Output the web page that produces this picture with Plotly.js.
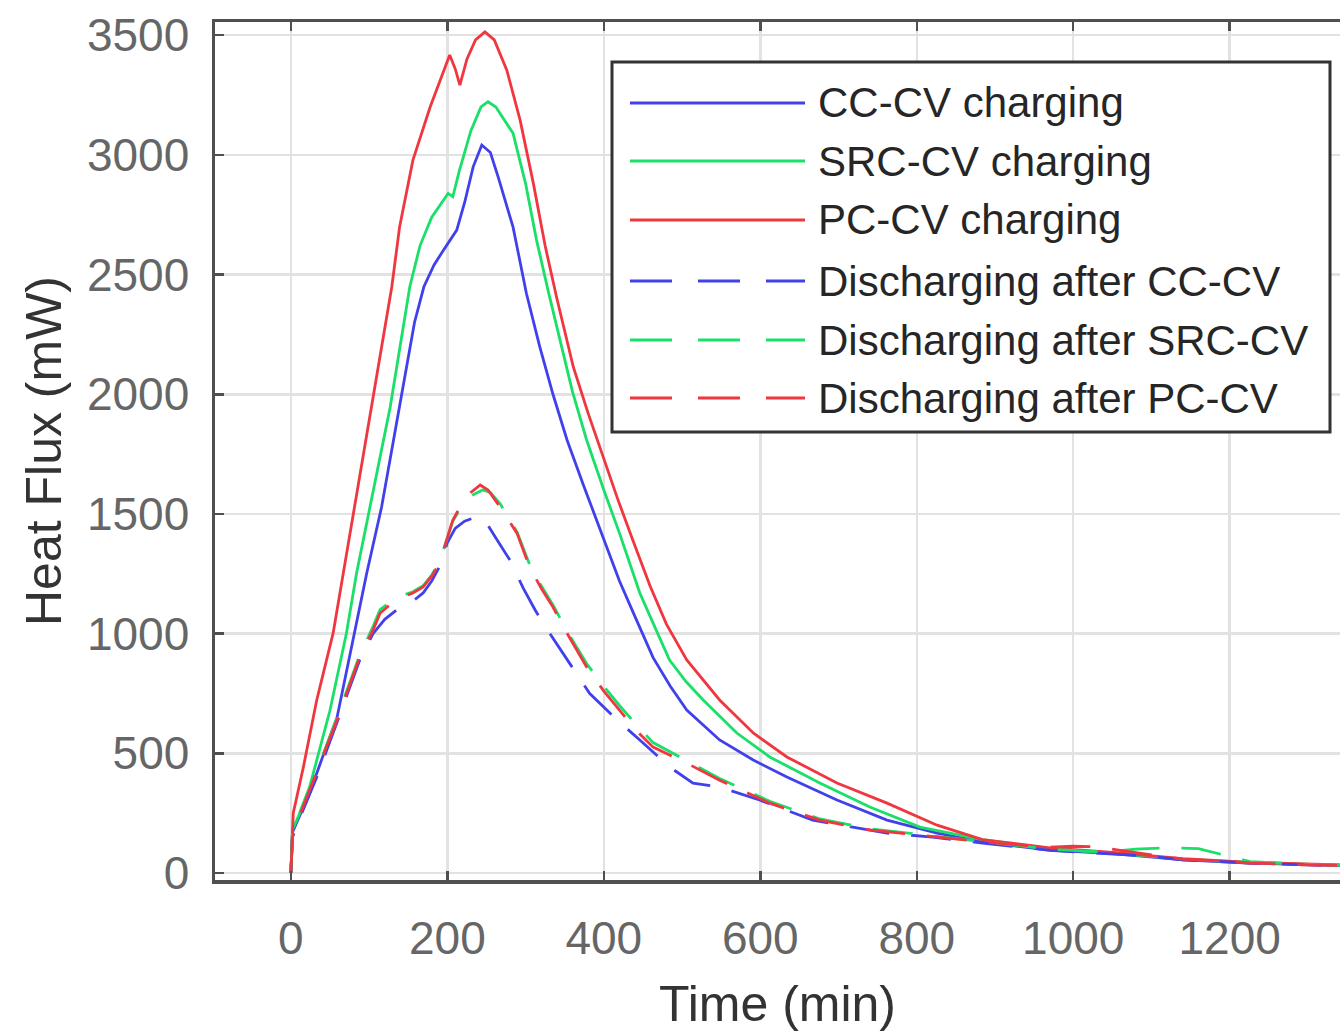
<!DOCTYPE html>
<html>
<head>
<meta charset="utf-8">
<script src="https://cdn.plot.ly/plotly-3.0.1.min.js"></script>
<style>
html,body{margin:0;padding:0;background:#fff;overflow:hidden;}
#chart{width:1340px;height:1032px;}
</style>
</head>
<body>
<div id="chart"></div>
<script>
// ---- Data (Time in min, Heat Flux in mW) ----
const tCC = [0, 2, 10, 24, 40, 59, 82, 97, 116, 139, 158, 170, 183, 195, 205, 212, 222, 233, 244, 255, 265, 284, 301, 318, 335, 353, 374, 395, 420, 440, 463, 485, 506, 548, 591, 634, 698, 762, 826, 884, 970, 1055, 1140, 1226, 1311, 1380];
const qCC = [0, 170, 230, 334, 480, 650, 1015, 1253, 1530, 1948, 2300, 2449, 2540, 2602, 2650, 2686, 2800, 2950, 3041, 3010, 2907, 2698, 2422, 2200, 2000, 1809, 1620, 1440, 1220, 1070, 900, 780, 681, 556, 472, 401, 305, 221, 167, 130, 96, 80, 55, 42, 33, 28];

const tSRC = [0, 2, 10, 24, 50, 71, 84, 105, 127, 152, 165, 180, 193, 201, 207, 215, 230, 243, 252, 262, 272, 284, 300, 314, 329, 344, 360, 378, 400, 420, 446, 463, 484, 505, 527, 570, 612, 676, 740, 804, 884, 970, 1055, 1100, 1140, 1226, 1311, 1380];
const qSRC = [0, 180, 240, 360, 680, 1002, 1253, 1587, 1948, 2449, 2620, 2740, 2800, 2839, 2825, 2930, 3100, 3200, 3222, 3200, 3150, 3090, 2880, 2644, 2430, 2226, 2010, 1809, 1600, 1420, 1170, 1044, 890, 800, 723, 585, 485, 376, 276, 192, 140, 102, 82, 70, 58, 44, 35, 30];

const tPC = [0, 3, 16, 33, 54, 67, 84, 105, 129, 139, 156, 178, 192, 203, 210, 216, 225, 236, 248, 260, 276, 293, 310, 325, 340, 361, 380, 399, 418, 437, 459, 480, 506, 548, 591, 634, 698, 762, 826, 884, 970, 1055, 1140, 1226, 1311, 1380];
const qPC = [0, 250, 443, 722, 1002, 1253, 1587, 1990, 2449, 2700, 2978, 3200, 3320, 3417, 3360, 3291, 3400, 3480, 3514, 3480, 3354, 3145, 2880, 2620, 2400, 2114, 1920, 1738, 1560, 1391, 1200, 1040, 890, 723, 585, 485, 376, 292, 200, 140, 105, 85, 60, 45, 36, 30];

const tDisCC = [0, 2, 10, 33, 59, 88, 105, 120, 135, 150, 169, 180, 190, 200, 210, 222, 235, 246, 262, 280, 297, 312, 327, 353, 382, 417, 446, 484, 514, 548, 599, 667, 762, 820, 884, 970, 1055, 1100, 1140, 1226, 1311, 1380];
const qDisCC = [0, 150, 220, 400, 630, 890, 1000, 1060, 1099, 1120, 1170, 1220, 1280, 1380, 1440, 1470, 1485, 1483, 1400, 1307, 1190, 1100, 1020, 890, 750, 639, 556, 443, 376, 359, 305, 221, 167, 150, 125, 95, 80, 70, 55, 42, 33, 28];

const tDisSRC = [0, 2, 10, 33, 59, 88, 105, 114, 130, 143, 156, 169, 180, 190, 200, 207, 218, 230, 245, 255, 268, 289, 305, 320, 335, 353, 378, 400, 420, 440, 463, 506, 548, 612, 676, 740, 800, 884, 970, 1040, 1080, 1120, 1160, 1190, 1226, 1311, 1380];
const qDisSRC = [0, 160, 240, 425, 650, 910, 1030, 1100, 1140, 1160, 1175, 1200, 1245, 1300, 1400, 1470, 1530, 1575, 1600, 1590, 1540, 1425, 1290, 1200, 1120, 1010, 875, 780, 700, 625, 545, 470, 395, 300, 226, 185, 162, 132, 100, 88, 100, 106, 102, 76, 48, 35, 30];

const tDisPC = [0, 2, 10, 33, 59, 88, 105, 114, 130, 143, 156, 169, 180, 190, 200, 207, 218, 230, 242, 252, 265, 289, 305, 320, 335, 353, 378, 400, 420, 440, 463, 506, 548, 612, 676, 740, 800, 884, 940, 970, 1000, 1030, 1060, 1100, 1140, 1226, 1311, 1380];
const qDisPC = [0, 150, 230, 418, 639, 903, 1015, 1085, 1130, 1153, 1170, 1195, 1240, 1294, 1400, 1475, 1540, 1590, 1621, 1600, 1540, 1420, 1278, 1190, 1111, 1002, 861, 760, 681, 600, 526, 459, 388, 292, 221, 180, 160, 130, 115, 108, 112, 110, 95, 75, 58, 42, 33, 30];

const seriesNames = ["CC-CV charging", "SRC-CV charging", "PC-CV charging",
                     "Discharging after CC-CV", "Discharging after SRC-CV", "Discharging after PC-CV"];
const xTicks = [0, 200, 400, 600, 800, 1000, 1200];
const yTicks = [0, 500, 1000, 1500, 2000, 2500, 3000, 3500];

// ---- Styles ----
const BLUE = "#4040ec", GREEN = "#1adf68", RED = "#f0363f";
const colors = [BLUE, GREEN, RED, BLUE, GREEN, RED];
const dashes = ["solid", "solid", "solid", "40px,22px", "40px,22px", "40px,22px"];
const xs = [tCC, tSRC, tPC, tDisCC, tDisSRC, tDisPC];
const ys = [qCC, qSRC, qPC, qDisCC, qDisSRC, qDisPC];

const traces = xs.map((x, i) => ({
  x: x, y: ys[i], type: "scatter", mode: "lines", name: seriesNames[i],
  line: {color: colors[i], width: 2.8, dash: dashes[i]},
  showlegend: false, hoverinfo: "skip"
}));

// plot area in pixels: x 215..1340, y 22..880
const PL = 215, PR = 1340, PT = 22, PB = 880;
const px = v => (v - PL) / (PR - PL);
const py = v => (PB - v) / (PB - PT);

const shapes = [];
const annotations = [];
// legend box
shapes.push({type: "rect", xref: "paper", yref: "paper",
  x0: px(612), x1: px(1330), y0: py(432), y1: py(62),
  line: {color: "#333333", width: 3}, fillcolor: "#ffffff", layer: "above"});
const rowY = [103, 161, 220, 281, 340, 398];
seriesNames.forEach((nm, i) => {
  shapes.push({type: "line", xref: "paper", yref: "paper",
    x0: px(630), x1: px(805), y0: py(rowY[i]), y1: py(rowY[i]),
    line: {color: colors[i], width: 3, dash: i < 3 ? "solid" : "42px,26px"}, layer: "above"});
  annotations.push({xref: "paper", yref: "paper", x: px(816), y: py(rowY[i]),
    xanchor: "left", yanchor: "middle", showarrow: false, text: nm,
    font: {family: "Arial, 'Liberation Sans', sans-serif", size: 42, color: "#262626"}});
});

const layout = {
  width: 1340, height: 1032,
  margin: {l: PL, r: 1340 - PR, t: PT, b: 1032 - PB},
  paper_bgcolor: "#ffffff", plot_bgcolor: "#ffffff",
  showlegend: false,
  font: {family: "Arial, 'Liberation Sans', sans-serif"},
  xaxis: {
    range: [-97, 1341], tickvals: xTicks, ticktext: xTicks.map(String),
    showgrid: true, gridcolor: "#e2e2e2", gridwidth: 2.5, zeroline: false,
    showline: true, linecolor: "#505050", linewidth: 3.5, mirror: "ticks",
    ticks: "inside", ticklen: 9, tickwidth: 2.5, tickcolor: "#505050",
    tickfont: {size: 46, color: "#666666"}, ticklabelstandoff: 15,
    title: {text: "Time (min)", font: {size: 50, color: "#333333"}, standoff: 32}
  },
  yaxis: {
    range: [-29, 3555], tickvals: yTicks, ticktext: yTicks.map(String),
    showgrid: true, gridcolor: "#e2e2e2", gridwidth: 2.5, zeroline: false,
    showline: true, linecolor: "#505050", linewidth: 3.5, mirror: false,
    ticks: "inside", ticklen: 9, tickwidth: 2.5, tickcolor: "#505050",
    tickfont: {size: 46, color: "#666666"}, ticklabelstandoff: 13,
    title: {text: "Heat Flux (mW)", font: {size: 50, color: "#333333"}, standoff: 10}
  },
  shapes: shapes,
  annotations: annotations
};

Plotly.newPlot("chart", traces, layout, {staticPlot: true, displayModeBar: false});
</script>
</body>
</html>
